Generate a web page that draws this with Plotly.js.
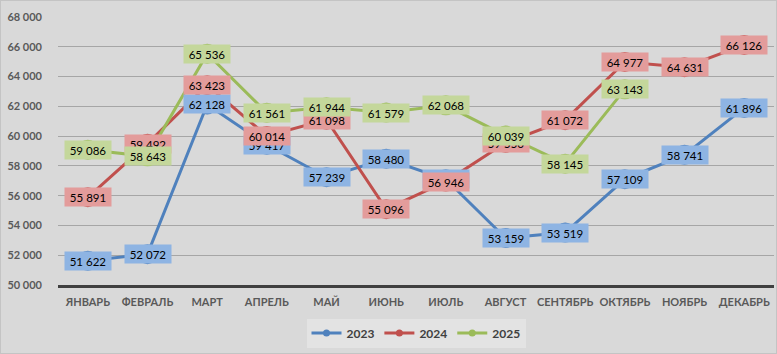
<!DOCTYPE html>
<html>
<head>
<meta charset="utf-8">
<script src="https://cdn.plot.ly/plotly-3.0.1.min.js"></script>
<style>
html,body{margin:0;padding:0;background:#ffffff;}
#chart{width:777px;height:354px;box-sizing:border-box;border:1px solid #c4c4c4;}
</style>
</head>
<body>
<div id="chart"></div>
<script>
const months = ['ЯНВАРЬ','ФЕВРАЛЬ','МАРТ','АПРЕЛЬ','МАЙ','ИЮНЬ','ИЮЛЬ','АВГУСТ','СЕНТЯБРЬ','ОКТЯБРЬ','НОЯБРЬ','ДЕКАБРЬ'];
const seriesNames = ['2023','2024','2025'];
const v2023 = [51622, 52072, 62128, 59417, 57239, 58480, 57100, 53159, 53519, 57109, 58741, 61896];
const v2024 = [55891, 59492, 63423, 60014, 61098, 55096, 56946, 59550, 61072, 64977, 64631, 66126];
const v2025 = [59086, 58643, 65536, 61561, 61944, 61579, 62068, 60039, 58145, 63143, null, null];
const yTicks = [50000, 52000, 54000, 56000, 58000, 60000, 62000, 64000, 66000, 68000];

const lineColors = ['#4f81bd', '#c0504d', '#9bbb59'];
const labelColors = ['#8eb4e3', '#e39c9b', '#c4d79b'];
const allValues = [v2023, v2024, v2025];

function fmt(v){ return String(v).replace(/\B(?=(\d{3})+(?!\d))/g, ' '); }

const traces = allValues.map((vals, i) => ({
  type: 'scatter',
  mode: 'lines+markers',
  name: seriesNames[i],
  x: months,
  y: vals,
  showlegend: false,
  line: {color: lineColors[i], width: 3},
  marker: {color: lineColors[i], size: 20},
  hoverinfo: 'skip'
}));

// legend entries with small markers, as in the reference legend
seriesNames.forEach((n, i) => {
  traces.push({
    type: 'scatter', mode: 'lines+markers', name: n,
    x: [null], y: [null],
    line: {color: lineColors[i], width: 3},
    marker: {color: lineColors[i], size: 7},
    hoverinfo: 'skip'
  });
});

const annotations = [];
allValues.forEach((vals, i) => {
  vals.forEach((v, j) => {
    if (v === null) return;
    annotations.push({
      x: months[j], y: v, xref: 'x', yref: 'y',
      text: fmt(v), showarrow: false,
      bgcolor: labelColors[i],
      width: 44, height: 16, borderpad: 1,
      font: {family: 'Lato, "Open Sans", sans-serif', size: 11.5, color: '#000000'}
    });
  });
});

const layout = {
  width: 775, height: 352,
  margin: {l: 57, r: 2, t: 16, b: 68},
  paper_bgcolor: '#d9d9d9',
  plot_bgcolor: '#d9d9d9',
  separators: ', ',
  showlegend: true,
  legend: {
    orientation: 'h', x: 0.5, xanchor: 'center', y: -0.125, yanchor: 'top',
    bgcolor: '#e3e3e3',
    font: {family: 'Lato, sans-serif', size: 12, color: '#404040', weight: 'bold'},
    itemwidth: 30, tracegroupgap: 0
  },
  xaxis: {
    type: 'category',
    range: [-0.5, 11.5],
    showgrid: false,
    showline: true, linecolor: '#404040', linewidth: 2.5,
    ticks: '',
    ticklabelstandoff: 5,
    tickfont: {family: 'Lato, sans-serif', size: 11, color: '#595959', weight: 'bold'},
    fixedrange: true
  },
  yaxis: {
    range: [50000, 68000],
    tickvals: yTicks,
    ticktext: yTicks.map(fmt),
    showgrid: true, gridcolor: '#a6a6a6', gridwidth: 1,
    zeroline: false, showline: false,
    ticks: '',
    ticklabelstandoff: 15,
    tickfont: {family: 'Lato, sans-serif', size: 11, color: '#595959', weight: 'bold'},
    fixedrange: true
  },
  annotations: annotations
};

Plotly.newPlot('chart', traces, layout, {displayModeBar: false, staticPlot: true});
</script>
</body>
</html>
